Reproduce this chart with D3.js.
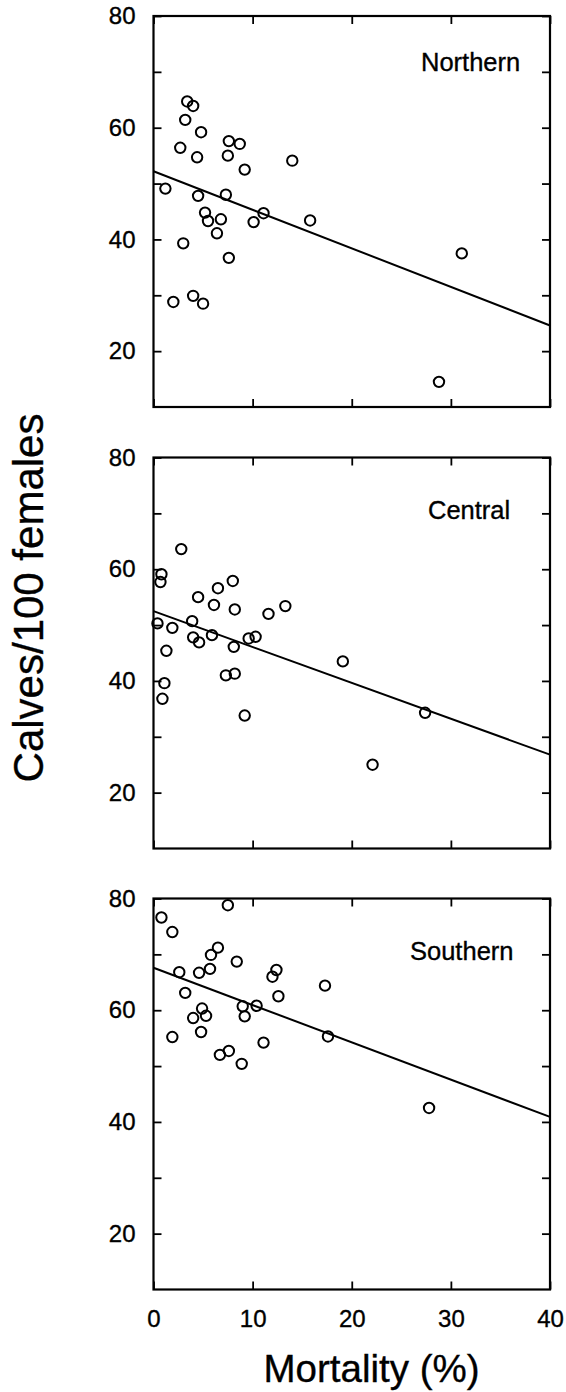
<!DOCTYPE html>
<html>
<head>
<meta charset="utf-8">
<script src="https://cdn.jsdelivr.net/npm/d3@7"></script>
<style>
  body { margin: 0; background: #fff; }
  text { font-family: "Liberation Sans", Arial, sans-serif; fill: #000; stroke: #000; stroke-width: 0.35px; }
</style>
</head>
<body>
<div id="chart"></div>
<script>
// mortality (%) and calves/100 females
const northernMort = [3.4, 4.0, 3.2, 4.8, 2.7, 7.6, 8.7, 4.4, 7.5, 9.2, 14.0, 1.2, 4.5, 7.3, 5.2, 5.5, 6.8, 6.4, 10.1, 11.1, 15.8, 3.0, 7.6, 2.0, 4.0, 5.0, 31.1, 28.8];
const northernCalves = [64.7, 63.9, 61.4, 59.2, 56.4, 57.6, 57.1, 54.7, 55.0, 52.5, 54.1, 49.1, 47.8, 48.0, 44.8, 43.3, 43.6, 41.1, 43.1, 44.7, 43.4, 39.3, 36.7, 28.8, 29.9, 28.5, 37.5, 14.5];

const centralMort = [2.8, 0.8, 0.7, 8.0, 6.5, 4.5, 6.1, 8.2, 11.6, 13.3, 0.4, 1.9, 3.9, 4.0, 4.6, 5.9, 8.1, 9.6, 10.3, 1.3, 1.1, 0.9, 7.3, 8.2, 9.2, 19.1, 27.4, 22.1];
const centralCalves = [63.6, 59.1, 57.7, 57.9, 56.6, 55.0, 53.6, 52.8, 52.0, 53.4, 50.3, 49.5, 50.7, 47.8, 46.9, 48.2, 46.1, 47.6, 47.9, 45.4, 39.6, 36.8, 41.0, 41.3, 33.8, 43.5, 34.3, 25.0];

const southernMort = [7.5, 0.8, 1.9, 6.5, 5.8, 8.4, 5.7, 2.6, 4.6, 12.4, 12.0, 17.3, 3.2, 12.6, 9.0, 10.4, 4.9, 5.3, 4.0, 9.2, 1.9, 4.8, 17.6, 11.1, 7.6, 6.7, 8.9, 27.8];
const southernCalves = [78.8, 76.6, 74.0, 71.2, 69.9, 68.7, 67.4, 66.8, 66.7, 67.2, 66.0, 64.4, 63.1, 62.5, 60.7, 60.8, 60.3, 59.0, 58.6, 58.9, 55.2, 56.1, 55.3, 54.2, 52.7, 52.0, 50.4, 42.5];

// fitted lines: value at 0 % and at 40 % mortality
const regionNames = ["Northern", "Central", "Southern"];
const fitAtZero = [52.2, 52.5, 67.6];
const fitAtForty = [24.6, 26.8, 40.9];

const mortTicks = [0, 10, 20, 30, 40];
const calfTicks = [20, 30, 40, 50, 60, 70, 80];

const regions = [
  {name: regionNames[0], x: northernMort, y: northernCalves, a: fitAtZero[0], b: fitAtForty[0]},
  {name: regionNames[1], x: centralMort, y: centralCalves, a: fitAtZero[1], b: fitAtForty[1]},
  {name: regionNames[2], x: southernMort, y: southernCalves, a: fitAtZero[2], b: fitAtForty[2]}
];

// layout
const width = 566, height = 1392;
const left = 153.5, right = 550;
const panelTops = [16, 457.5, 898.5];
const panelH = 391;
const labelX = [421, 428, 410];
const labelDy = [55, 61, 61];

const svg = d3.select("#chart").append("svg")
  .attr("width", width)
  .attr("height", height);

const x = d3.scaleLinear().domain([0, 40]).range([left, right]);

regions.forEach(function(r, i) {
  let top = panelTops[i];
  let y = d3.scaleLinear().domain([10, 80]).range([top + panelH, top]);
  let g = svg.append("g");

  // inward ticks on all four sides
  let yl = g.append("g").attr("transform", "translate(" + left + ",0)")
    .call(d3.axisLeft(y).tickValues(calfTicks).tickSize(-8).tickPadding(18)
      .tickFormat(d => d % 20 == 0 ? d : ""));
  let yr = g.append("g").attr("transform", "translate(" + right + ",0)")
    .call(d3.axisRight(y).tickValues(calfTicks).tickSize(-8).tickFormat(""));
  let xt = g.append("g").attr("transform", "translate(0," + top + ")")
    .call(d3.axisTop(x).tickValues(mortTicks).tickSize(-8).tickFormat(""));
  let xb = g.append("g").attr("transform", "translate(0," + (top + panelH) + ")")
    .call(d3.axisBottom(x).tickValues(mortTicks).tickSize(-8).tickPadding(20)
      .tickFormat(i == 2 ? d3.format("d") : ""));

  [yl, yr, xt, xb].forEach(function(ax) {
    ax.select(".domain").remove();
    ax.selectAll("line").attr("stroke", "#000").attr("stroke-width", 1.8);
    ax.selectAll("text").style("font-size", "24px")
      .style("font-family", "'Liberation Sans', Arial, sans-serif").attr("fill", "#000");
  });

  g.append("rect")
    .attr("x", left).attr("y", top)
    .attr("width", right - left).attr("height", panelH)
    .attr("fill", "none").attr("stroke", "#000").attr("stroke-width", 2.2);

  // regression line
  g.append("line")
    .attr("x1", x(0)).attr("y1", y(r.a))
    .attr("x2", x(40)).attr("y2", y(r.b))
    .attr("stroke", "#000").attr("stroke-width", 2);

  g.selectAll("circle")
    .data(d3.range(r.x.length))
    .enter().append("circle")
    .attr("cx", k => x(r.x[k]))
    .attr("cy", k => y(r.y[k]))
    .attr("r", 5.2)
    .attr("fill", "none")
    .attr("stroke", "#000")
    .attr("stroke-width", 2);

  g.append("text")
    .attr("x", labelX[i]).attr("y", top + labelDy[i])
    .style("font-size", "25.5px")
    .text(r.name);
});

svg.append("text")
  .attr("transform", "translate(43,598) rotate(-90)")
  .attr("text-anchor", "middle")
  .style("font-size", "42px")
  .text("Calves/100 females");

svg.append("text")
  .attr("x", 371.5).attr("y", 1382)
  .attr("text-anchor", "middle")
  .style("font-size", "38.5px")
  .text("Mortality (%)");
</script>
</body>
</html>
